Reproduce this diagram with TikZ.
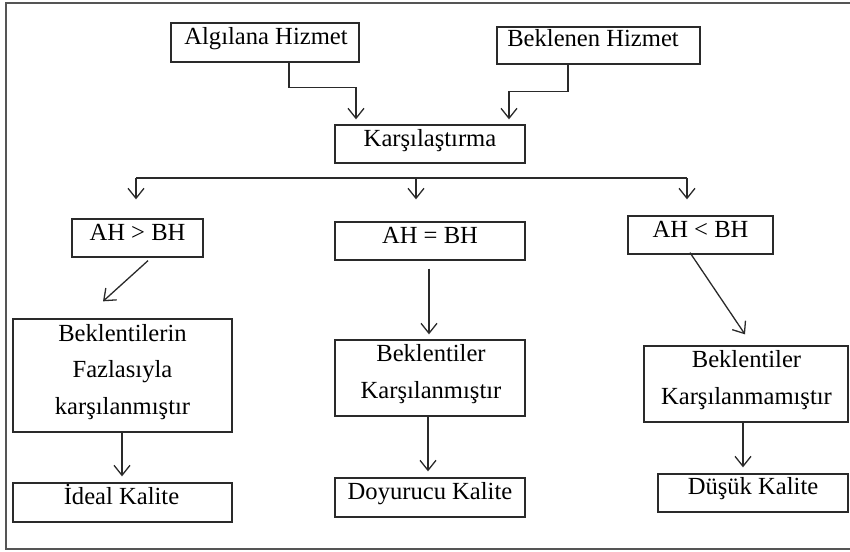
\documentclass[tikz,border=0pt]{standalone}
\usepackage{fontspec}
\setmainfont{Liberation Serif}
\usetikzlibrary{arrows.meta}
\definecolor{ln}{HTML}{2a2a2a}
\definecolor{fr}{HTML}{555555}
\begin{document}
\begin{tikzpicture}[x=1pt,y=-1pt,
  box/.style={draw=ln,line width=1.3pt,inner sep=0pt,minimum width=#1},
  txt/.style={anchor=base,inner sep=0pt,align=center,font=\fontsize{24.6}{36.5}\selectfont},
  arr/.style={draw=ln,line width=1.3pt,-{Straight Barb[length=10pt,width=16pt,line width=1.3pt]}}]
\useasboundingbox (0,0) rectangle (850,551);
\draw[fr,line width=1.3pt] (851,3) -- (6,3) -- (6,549) -- (851,549);
% boxes
\node[box=188,minimum height=39] (alg) at (265,42.5) {};
\node[txt] (talg) at (266,45) {Algılana Hizmet};
\node[box=203,minimum height=37] (bek) at (598.5,45.5) {};
\node[txt] (tbek) at (593,47) {Beklenen Hizmet};
\node[box=190,minimum height=38] (kar) at (430,144) {};
\node[txt] (tkar) at (430,146) {Karşılaştırma};
\node[box=131,minimum height=38] (g) at (137.5,238) {};
\node[txt] (tg) at (137.5,240) {AH > BH};
\node[box=190,minimum height=38] (e) at (430,241) {};
\node[txt] (te) at (430,243) {AH = BH};
\node[box=145,minimum height=38] (l) at (700.5,235) {};
\node[txt] (tl) at (700.5,237) {AH < BH};
\node[box=219,minimum height=113] (b1) at (122.5,375.5) {};
\node[txt] (tb1) at (122.5,414) {Beklentilerin\\Fazlasıyla\\karşılanmıştır};
\node[box=190,minimum height=76] (b2) at (430,378) {};
\node[txt] (tb2) at (431,398) {Beklentiler\\Karşılanmıştır};
\node[box=204,minimum height=76] (b3) at (746,384) {};
\node[txt] (tb3) at (746.5,404) {Beklentiler\\Karşılanmamıştır};
\node[box=219,minimum height=39] (i) at (122.5,502.5) {};
\node[txt] (ti) at (121.5,504) {İdeal Kalite};
\node[box=190,minimum height=39] (d) at (430,497.5) {};
\node[txt] (td) at (430,499) {Doyurucu Kalite};
\node[box=190,minimum height=38] (dk) at (753,493) {};
\node[txt] (tdk) at (753,494) {Düşük Kalite};
% top connectors
\draw[arr] ([xshift=24pt]alg.south) |- ([xshift=-74pt,yshift=37pt]kar.north) -- ([xshift=-74pt,yshift=5pt]kar.north);
\draw[arr] ([xshift=-30.5pt]bek.south) |- ([xshift=79pt,yshift=33pt]kar.north) -- ([xshift=79pt,yshift=5pt]kar.north);
% branch
\coordinate (bl) at (136,178);
\coordinate (bm) at (416,178);
\coordinate (br) at (687,178);
\draw[ln,line width=1.3pt] (bl) -- (br);
\draw[arr] (bl) -- ([xshift=-1.5pt,yshift=19pt]g.north);
\draw[arr] (bm) -- ([xshift=-14pt,yshift=22pt]e.north);
\draw[arr] (br) -- ([xshift=-13.5pt,yshift=16pt]l.north);
% middle connectors
\draw[arr] ([xshift=10.5pt,yshift=-3pt]g.south) -- ([xshift=-19.5pt,yshift=17pt]b1.north);
\draw[arr] ([xshift=-1pt,yshift=-8pt]e.south) -- ([xshift=-1pt,yshift=5pt]b2.north);
\draw[arr] ([xshift=-10.5pt,yshift=2pt]l.south) -- ([xshift=-1pt,yshift=11pt]b3.north);
% bottom connectors
\draw[arr] ([xshift=-0.5pt]b1.south) -- ([xshift=-0.5pt,yshift=6pt]i.north);
\draw[arr] ([xshift=-2pt]b2.south) -- ([xshift=-2pt,yshift=6pt]d.north);
\draw[arr] ([xshift=-3pt]b3.south) -- ([xshift=-10pt,yshift=6pt]dk.north);
\end{tikzpicture}
\end{document}
